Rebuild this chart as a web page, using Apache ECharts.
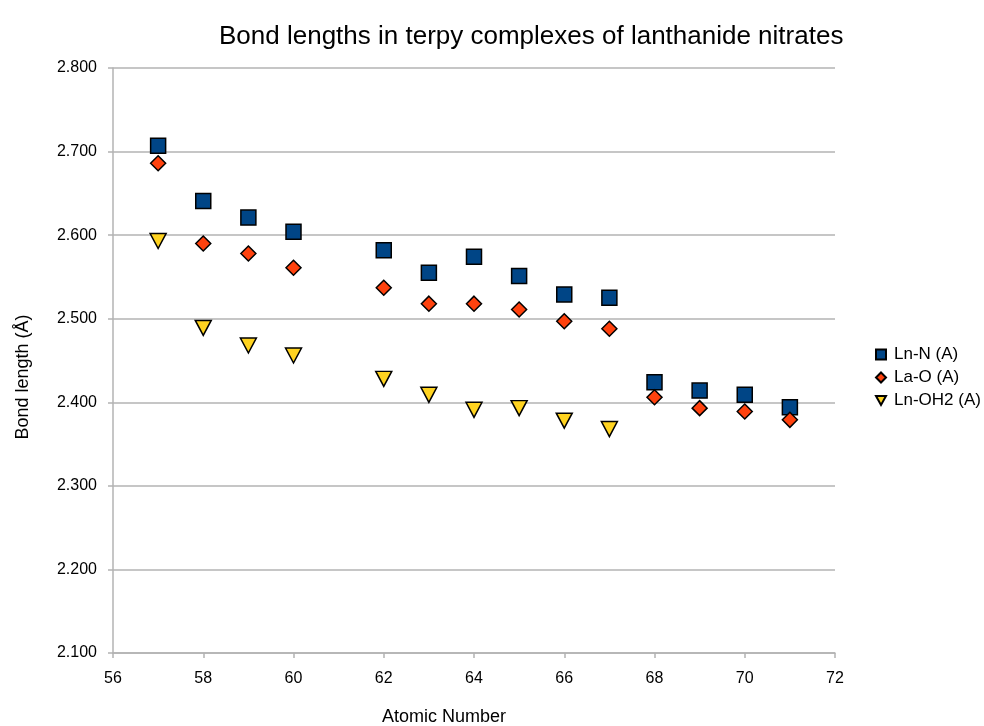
<!DOCTYPE html>
<html>
<head>
<meta charset="utf-8">
<script src="https://cdn.jsdelivr.net/npm/echarts@6/dist/echarts.min.js"></script>
<style>
html,body{margin:0;padding:0;background:#fff;}
#chart{width:984px;height:726px;}
</style>
</head>
<body>
<div id="chart"></div>
<script>
const title = "Bond lengths in terpy complexes of lanthanide nitrates";
const xName = "Atomic Number";
const yName = "Bond length (Å)";
const seriesNames = ["Ln-N (A)", "La-O (A)", "Ln-OH2 (A)"];

const atomicNumbersN = [57, 58, 59, 60, 62, 63, 64, 65, 66, 67, 68, 69, 70, 71];
const lnN = [2.707, 2.641, 2.621, 2.604, 2.582, 2.555, 2.574, 2.551, 2.529, 2.525, 2.424, 2.414, 2.409, 2.394];

const atomicNumbersO = [57, 58, 59, 60, 62, 63, 64, 65, 66, 67, 68, 69, 70, 71];
const laO = [2.686, 2.590, 2.578, 2.561, 2.537, 2.518, 2.518, 2.511, 2.497, 2.488, 2.406, 2.393, 2.389, 2.379];

const atomicNumbersW = [57, 58, 59, 60, 62, 63, 64, 65, 66, 67];
const lnOH2 = [2.593, 2.489, 2.468, 2.456, 2.428, 2.409, 2.391, 2.393, 2.378, 2.368];

const xMin = 56, xMax = 72, xStep = 2;
const yMin = 2.1, yMax = 2.8, yStep = 0.1;

function pairs(xs, ys) { return xs.map((x, i) => [x, ys[i]]); }

const chart = echarts.init(document.getElementById('chart'));
const FONT = '"Liberation Sans", Arial, sans-serif';
const downTri = 'path://M0,0 L10,0 L5,9 Z';

chart.setOption({
  animation: false,
  backgroundColor: '#ffffff',
  textStyle: { fontFamily: FONT },
  title: {
    text: title,
    left: 214,
    top: 19,
    textStyle: { fontFamily: FONT, fontSize: 26, fontWeight: 'normal', color: '#000' }
  },
  legend: {
    orient: 'vertical',
    left: 870,
    top: 341,
    itemWidth: 10,
    itemHeight: 10,
    itemGap: 6,
    textStyle: { fontFamily: FONT, fontSize: 17, color: '#000', padding: [0, 0, 0, 3] },
    data: seriesNames
  },
  graphic: [
    {
      type: 'text', left: 382, top: 708,
      style: { text: xName, font: '18px ' + FONT, fill: '#000' }
    },
    {
      type: 'text', x: 23, y: 377, rotation: Math.PI / 2,
      style: { text: yName, font: '18px ' + FONT, fill: '#000', align: 'center', verticalAlign: 'middle' }
    }
  ],
  grid: { left: 113, right: 149, top: 68, bottom: 73, containLabel: false },
  xAxis: {
    type: 'value',
    min: xMin, max: xMax, interval: xStep,
    axisLine: { show: true, onZero: false, lineStyle: { color: '#b3b3b3', width: 1.5 } },
    axisTick: { show: true, length: 5, lineStyle: { color: '#b3b3b3', width: 1.5 } },
    axisLabel: { fontFamily: FONT, fontSize: 16, color: '#000', margin: 18 },
    splitLine: { show: false }
  },
  yAxis: {
    type: 'value',
    min: yMin, max: yMax, interval: yStep,
    axisLine: { show: true, onZero: false, lineStyle: { color: '#b3b3b3', width: 1.5 } },
    axisTick: { show: true, length: 5, lineStyle: { color: '#b3b3b3', width: 1.5 } },
    axisLabel: { fontFamily: FONT, fontSize: 16, color: '#000', margin: 16,
      formatter: v => v.toFixed(3) },
    splitLine: { show: true, lineStyle: { color: '#b3b3b3', width: 1.5 } }
  },
  series: [
    {
      name: seriesNames[0], type: 'scatter', symbol: 'rect', symbolSize: 15,
      itemStyle: { color: '#004586', borderColor: '#000', borderWidth: 1.5, opacity: 1 },
      data: pairs(atomicNumbersN, lnN), z: 3
    },
    {
      name: seriesNames[1], type: 'scatter', symbol: 'diamond', symbolSize: 15,
      itemStyle: { color: '#ff420e', borderColor: '#000', borderWidth: 1.5, opacity: 1 },
      data: pairs(atomicNumbersO, laO), z: 4
    },
    {
      name: seriesNames[2], type: 'scatter', symbol: downTri, symbolSize: [16, 15],
      itemStyle: { color: '#ffd320', borderColor: '#000', borderWidth: 1.5, opacity: 1 },
      data: pairs(atomicNumbersW, lnOH2), z: 5
    }
  ]
});
</script>
</body>
</html>
